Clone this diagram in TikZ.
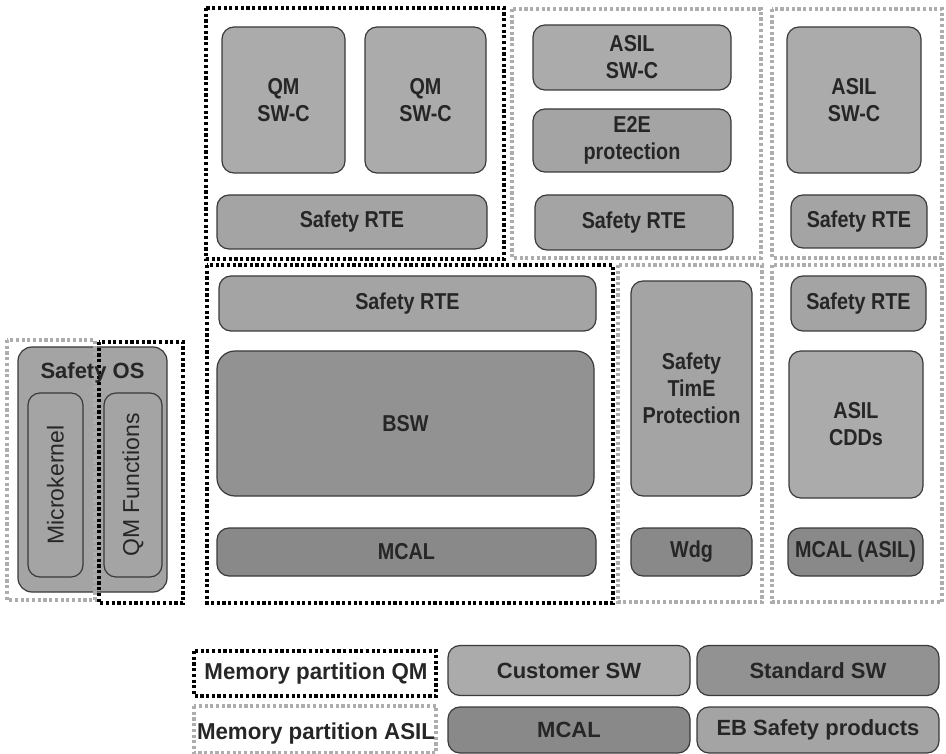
\documentclass[tikz,border=0pt]{standalone}
\usepackage{fontspec}
\setmainfont{Liberation Sans}
\newfontfamily\condfont{Liberation Sans}[FakeStretch=0.86]
\newfontfamily\legendfont{Liberation Sans}[FakeStretch=0.97]
\definecolor{custfill}{HTML}{ABABAB}
\definecolor{ebfill}{HTML}{A4A4A4}
\definecolor{stdfill}{HTML}{929292}
\definecolor{mcalfill}{HTML}{898989}
\definecolor{edge}{HTML}{3A3A3A}
\definecolor{ink}{HTML}{262626}
\definecolor{dotgray}{HTML}{ADADAD}
\begin{document}
\begin{tikzpicture}[x=1pt,y=-1pt,
  box/.style={draw=edge, line width=1.2pt, rounded corners=12pt, align=center,
    inner sep=0pt, text=ink, font=\condfont\bfseries\fontsize{23}{27}\selectfont},
  bigbox/.style={box, rounded corners=18pt},
  cust/.style={fill=custfill},
  ebs/.style={fill=ebfill},
  stdsw/.style={fill=stdfill},
  mcalsw/.style={fill=mcalfill},
  qmframe/.style={draw=black, line width=3.4pt, dash pattern=on 3.2pt off 2.5pt},
  asilframe/.style={draw=dotgray, line width=3.4pt, dash pattern=on 3.2pt off 2.5pt},
  legendbox/.style={box, font=\bfseries\fontsize{22}{26}\selectfont},
  legendtext/.style={text=ink, inner sep=0pt, anchor=base, font=\legendfont\bfseries\fontsize{23}{26}\selectfont},
  vlabel/.style={text=ink, inner sep=0pt, rotate=90, font=\fontsize{23}{26}\selectfont}
]
\useasboundingbox (0,0) rectangle (946,754);

% memory partition frames of the software stack
\draw[qmframe]   (206,8) rectangle (504,259);
\draw[asilframe] (512,9) rectangle (761,258);
\draw[asilframe] (772,9) rectangle (942,258);
\draw[qmframe]   (207,265) rectangle (613,603);
\draw[asilframe] (618,265) rectangle (762,602);
\draw[asilframe] (772,265) rectangle (942,602);

% upper application layer
\node[box, cust, minimum width=123pt, minimum height=146pt] (qmA) at (283.5,100) {QM\\SW-C};
\node[box, cust, minimum width=121pt, minimum height=146pt] (qmB) at (425.5,100) {QM\\SW-C};
\node[box, ebs, minimum width=270pt, minimum height=54pt] (rteA) at (352,222) {Safety RTE};

\node[box, cust, minimum width=198pt, minimum height=65pt] (asilA) at (632,57.5) {ASIL\\SW-C};
\node[box, ebs, minimum width=198pt, minimum height=63pt] (e2e) at (632,140.5) {E2E\\protection};
\node[box, ebs, minimum width=198pt, minimum height=55pt] (rteB) at (634,222.5) {Safety RTE};

\node[box, cust, minimum width=134pt, minimum height=146pt] (asilB) at (854,100) {ASIL\\SW-C};
\node[box, ebs, minimum width=136pt, minimum height=53pt] (rteC) at (859,221.5) {Safety RTE};

% basic software layer
\node[box, ebs, minimum width=377pt, minimum height=55pt] (rteD) at (407.5,303.5) {Safety RTE};
\node[bigbox, stdsw, minimum width=377pt, minimum height=145pt] (bsw) at (405.5,423.5) {BSW};
\node[box, mcalsw, minimum width=379pt, minimum height=48pt] (mcal) at (406.5,552) {MCAL};

\node[box, ebs, minimum width=121pt, minimum height=215pt] (tp) at (691.5,388.5) {Safety\\TimE\\Protection};
\node[box, mcalsw, minimum width=121pt, minimum height=48pt] (wdg) at (691.5,552) {Wdg};

\node[box, ebs, minimum width=135pt, minimum height=55pt] (rteE) at (858.5,303.5) {Safety RTE};
\node[box, cust, minimum width=134pt, minimum height=147pt] (cdd) at (856,424.5) {ASIL\\CDDs};
\node[box, mcalsw, minimum width=135pt, minimum height=48pt] (mcalA) at (855.5,552) {MCAL (ASIL)};

% operating system, split over both partitions
\node[box, ebs, minimum width=149pt, minimum height=245pt, rounded corners=14pt] (os) at (92.5,469.5) {};
\node[box, ebs, minimum width=55pt, minimum height=184pt] (mk) at (55.5,485) {};
\node[vlabel] (mktext) at (mk.center) {Microkernel};
\node[box, ebs, minimum width=58pt, minimum height=184pt] (qmf) at (133,485) {};
\node[vlabel] (qmftext) at (qmf.center) {QM Functions};
\draw[asilframe] (7,340) rectangle (95,600);
\draw[qmframe]   (99,342) rectangle (183,603);
\node[text=ink, inner sep=0pt, font=\bfseries\fontsize{22}{26}\selectfont] (oslabel) at (92.5,372.5) {Safety OS};

% legend
\draw[qmframe]   (194,651) rectangle (436,696);
\node[legendtext] (lqm) at (316,679) {Memory partition QM};
\draw[asilframe] (194,706) rectangle (436,753);
\node[legendtext] (lasil) at (316,739) {Memory partition ASIL};
\node[legendbox, cust, minimum width=242pt, minimum height=50pt] (lcust) at (569,670.5) {Customer SW};
\node[legendbox, stdsw, minimum width=242pt, minimum height=50pt] (lstd) at (818,670.5) {Standard SW};
\node[legendbox, mcalsw, minimum width=242pt, minimum height=46pt] (lmcal) at (569,730) {MCAL};
\node[legendbox, ebs, minimum width=242pt, minimum height=46pt] (leb) at (818,730) {EB Safety products};
\end{tikzpicture}
\end{document}
